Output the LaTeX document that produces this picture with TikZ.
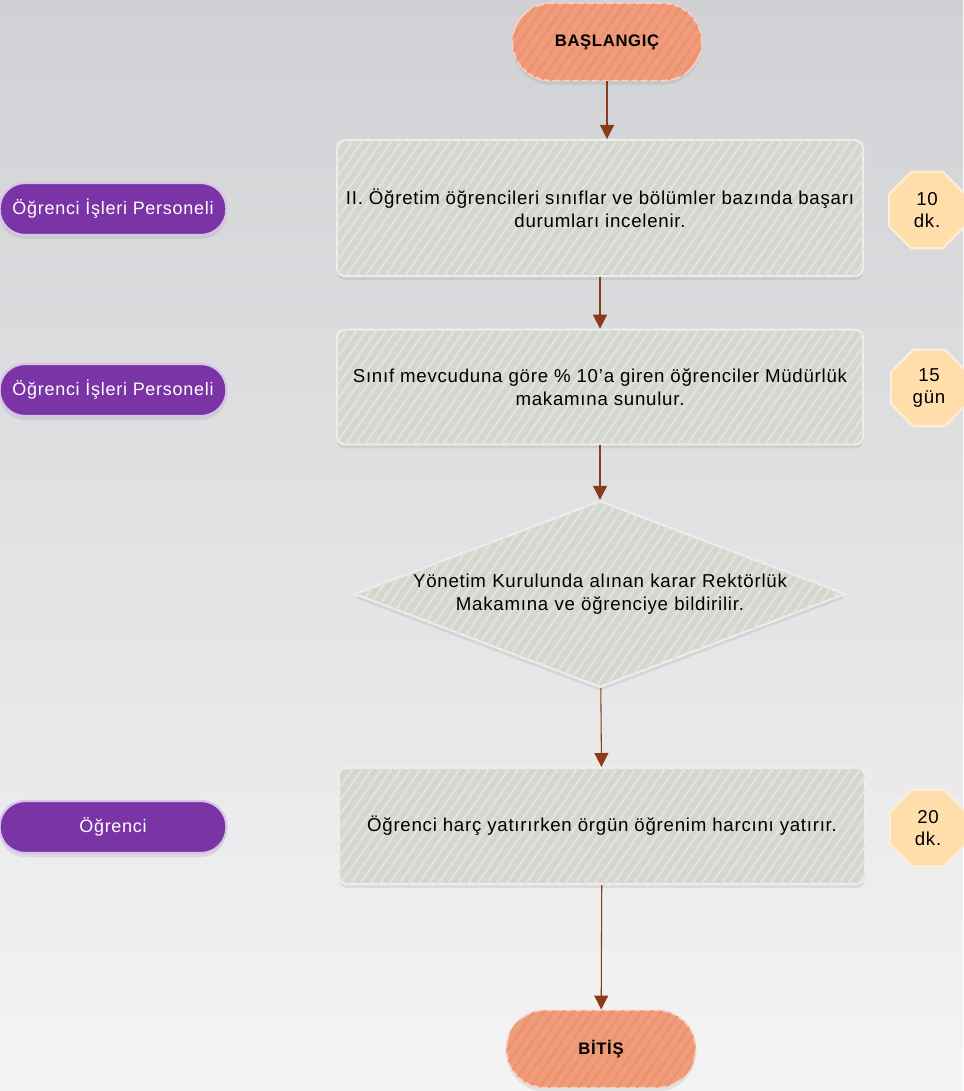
\documentclass[tikz,border=0pt]{standalone}
\usepackage{fontspec}
\setmainfont[LetterSpace=4]{Liberation Sans}
\usetikzlibrary{arrows.meta}
\usetikzlibrary{shapes.geometric}
\usetikzlibrary{patterns.meta}
\usetikzlibrary{shadows}
\definecolor{okcol}{RGB}{139,58,26}
\definecolor{somon}{RGB}{238,156,122}
\definecolor{kutucol}{RGB}{212,215,207}
\definecolor{mor}{RGB}{122,52,166}
\definecolor{morkenar}{RGB}{216,196,232}
\definecolor{surecol}{RGB}{255,222,172}
\definecolor{bgtop}{RGB}{207,209,212}
\definecolor{bgbot}{RGB}{244,244,244}
\tikzset{>={Triangle[length=10.5pt,width=10.5pt]}}
\tikzset{
  cizgili/.style={postaction={pattern={Lines[angle=55,distance=6pt,line width=1.7pt]},
                  pattern color=#1}},
  golge/.style={drop shadow={opacity=0.16,shadow xshift=0pt,shadow yshift=-3pt}},
  uc/.style={rectangle,rounded corners=29pt,fill=somon,draw=white!55!somon,line width=1.2pt,
             golge,cizgili=somon!93!red,font=\bfseries\fontsize{12.5}{16}\selectfont,
             minimum width=142pt,minimum height=58pt},
  islem/.style={rectangle,rounded corners=6pt,fill=kutucol,draw=white!60!kutucol,line width=1.5pt,
                golge,cizgili=white!30!kutucol,align=center,minimum width=394.5pt,
                font=\fontsize{14}{17.25}\selectfont},
  karar/.style={diamond,fill=kutucol,draw=white!60!kutucol,line width=1.5pt,golge,
                cizgili=white!30!kutucol,aspect=2.63,inner sep=0pt,text width=288pt,align=center,
                minimum width=363pt,minimum height=138pt,font=\fontsize{14}{17.25}\selectfont},
  kisi/.style={rectangle,rounded corners=19pt,fill=mor,draw=morkenar,line width=1.6pt,text=white,
               golge,minimum width=170pt,minimum height=39pt,inner xsep=2pt,
               font=\fontsize{13.5}{16}\selectfont},
  sure/.style={regular polygon,regular polygon sides=8,fill=surecol,draw=white!50!surecol,
               line width=1.6pt,minimum size=62pt,inner sep=0pt,align=center,
               font=\fontsize{14}{16.5}\selectfont},
  akis/.style={->,okcol,line width=0.8pt}
}

\begin{document}
\begin{tikzpicture}[x=0.75pt,y=-0.75pt]
  % BACKGROUND
  \useasboundingbox (0,0) rectangle (963,1091);
  \shade[top color=bgtop,bottom color=bgbot] (0,0) rectangle (963,1091);

  % FLOW
  \node[uc] (bas) at (607,42) {BAŞLANGIÇ};
  \node[islem,minimum height=102pt] (is1) at (600,208)
    {II. Öğretim öğrencileri sınıflar ve bölümler bazında başarı\\ durumları incelenir.};
  \node[islem,minimum height=86pt] (is2) at (600,387)
    {Sınıf mevcuduna göre \% 10'a giren öğrenciler Müdürlük\\ makamına sunulur.};
  \node[karar] (kurul) at (600,594)
    {Yönetim Kurulunda alınan karar Rektörlük\\ Makamına ve öğrenciye bildirilir.};
  \node[islem,minimum height=87pt] (is3) at (602,826)
    {Öğrenci harç yatırırken örgün öğrenim harcını yatırır.};
  \node[uc] (bit) at (601,1049) {BİTİŞ};

  % WHO
  \node[kisi] (per1) at (113,209) {Öğrenci İşleri Personeli};
  \node[kisi] (per2) at (113,390) {Öğrenci İşleri Personeli};
  \node[kisi] (per3) at (113,827) {Öğrenci};

  % TIME
  \node[sure] (sr1) at (927,210) {10\\ dk.};
  \node[sure] (sr2) at (929,388) {15\\ gün};
  \node[sure] (sr3) at (928,828) {20\\ dk.};

  % ARROWS
  \draw[akis] (bas) -- (bas |- is1.north);
  \draw[akis] (is1) -- (is2);
  \draw[akis] (is2) -- (kurul);
  \draw[akis] (kurul) -- (is3);
  \draw[akis] (is3) -- (bit);

\end{tikzpicture}
\end{document}
